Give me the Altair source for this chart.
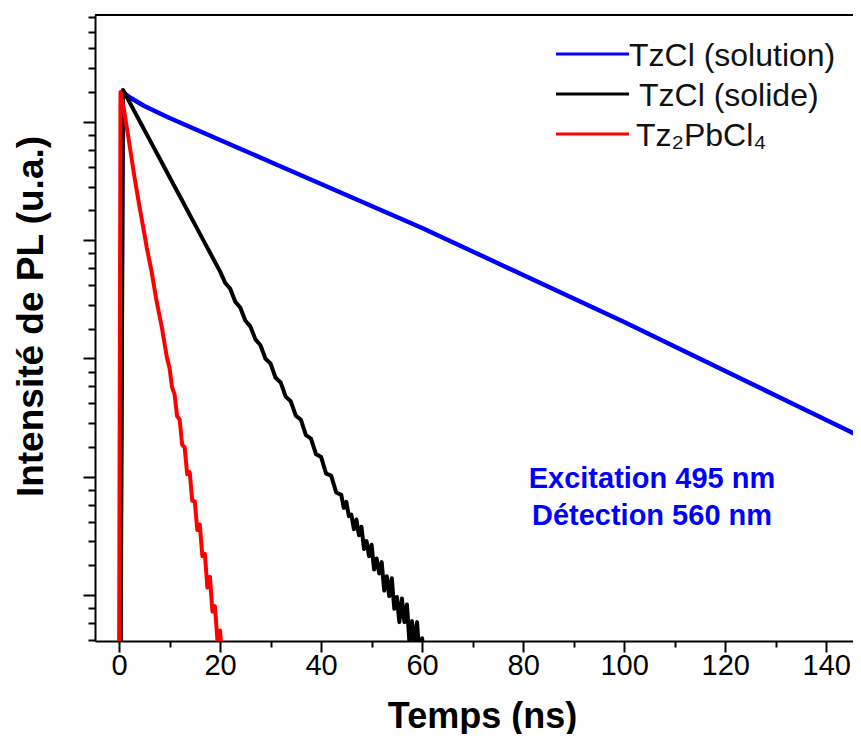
import math
import altair as alt
import pandas as pd

# ---------------- data ----------------
series_names = ["TzCl (solution)", "TzCl (solide)", "Tz\u2082PbCl\u2084"]
series_colors = ["#0000ff", "#000000", "#ff0000"]

t_solution = [0.2, 0.7, 2, 5, 7.5, 10, 15, 20, 25, 30, 35, 40, 45, 50, 55, 60, 65, 70, 75,
              80, 85, 90, 95, 100, 105, 110, 115, 120, 125, 130, 135, 140, 145, 147]
i_solution = [60, 10450, 9994, 9262, 8805, 8368, 7625, 6948, 6331, 5772, 5256, 4790, 4365,
              3977, 3624, 3303, 2990, 2708, 2451, 2219, 2010, 1819, 1647, 1492, 1345, 1212,
              1093, 986, 889, 801, 723, 652, 587, 564]

t_solide = [0.3, 0.8, 2, 3, 4, 5, 6, 7, 8, 9, 10, 11, 12, 13, 14, 15, 16, 17, 18, 19, 20,
            21, 22, 23, 24, 25, 26, 27, 28, 29, 30, 31, 32, 33, 34, 35, 36, 37, 38, 39, 40,
            41, 42, 43, 44, 44.5, 45, 45.5, 46, 46.5, 47, 47.5, 48, 48.5, 49, 49.5, 50,
            50.5, 51, 51.5, 52, 52.5, 53, 53.5, 54, 54.5, 55, 55.5, 56, 56.5, 57, 57.5, 58,
            58.5, 59, 59.5, 60, 60.5, 61]
i_solide = [60, 10603, 9637, 8893, 8214, 7580, 7001, 6463, 5967, 5509, 5082, 4690, 4336,
            4003, 3695, 3411, 3149, 2907, 2684, 2478, 2288, 2080, 1979, 1773, 1687, 1511,
            1438, 1288, 1225, 1093, 1050, 931, 895, 794, 763, 676, 653, 573, 557, 488, 477,
            414, 407, 353, 346, 310, 326, 289, 293, 259, 281, 246, 264, 219, 234, 206, 227,
            184, 202, 178, 196, 154, 174, 147, 171, 132, 146, 118, 144, 118, 137, 99, 119,
            97, 118, 87, 103, 84, 89]

t_pb = [0.0, 0.3, 1, 2, 3, 4, 5, 5.5, 6, 6.5, 7, 7.5, 8, 8.5, 9, 9.5, 10, 10.5, 11, 11.5,
        12, 12.5, 13, 13.5, 14, 14.5, 15, 15.5, 16, 16.5, 17, 17.5, 18, 18.5, 19, 19.5, 20,
        20.5]
i_pb = [60, 10425, 8953, 6835, 5169, 4010, 3165, 2796, 2520, 2261, 1989, 1756, 1582, 1420,
        1249, 1103, 1014, 860, 809, 672, 655, 529, 517, 412, 419, 329, 328, 257, 269, 206,
        210, 158, 173, 129, 135, 100, 110, 83]

x_major = list(range(0, 141, 20))
x_minor = list(range(10, 141, 20))
annotation = ["Excitation 495 nm", "D\u00e9tection 560 nm"]

# ---------------- layout ----------------
W, H = 758, 626
X_DOMAIN = [-4.75, 145.3]
Y_DOMAIN = [100.6, 19990]
FONT = "Liberation Sans"

# natural-log axis (Origin "ln" scale): major ticks at e^k, 5 linear minor ticks between
y_major = [math.exp(k) for k in range(5, 10)]
y_minor = [v for v in (math.exp(k) * (1 + j * (math.e - 1) / 6)
                       for k in range(4, 10) for j in range(1, 6))
           if Y_DOMAIN[0] <= v <= Y_DOMAIN[1]]

x_scale = alt.Scale(domain=X_DOMAIN, nice=False, zero=False)
y_scale = alt.Scale(type="log", base=math.e, domain=Y_DOMAIN, nice=False)

tick_style = dict(tickColor="#000000", tickWidth=2, tickOpacity=1, ticks=True,
                  domainColor="#000000", domainWidth=2)

x_main = alt.X(
    "t:Q", scale=x_scale,
    axis=alt.Axis(
        values=x_major, tickSize=11, labelPadding=-1,
        labelFontSize=29, labelFont=FONT, labelColor="black",
        labelOverlap=False, labelFlush=False, grid=False,
        title="Temps (ns)", titleFont=FONT, titleFontSize=36, titleFontWeight="bold",
        titleColor="black", titleX=387, titleY=86, titleBaseline="alphabetic",
        titleAnchor="middle", **tick_style,
    ),
)
y_main = alt.Y(
    "i:Q", scale=y_scale,
    axis=alt.Axis(
        values=y_major, labels=False, tickSize=12, grid=False,
        title="Intensit\u00e9 de PL (u.a.)", titleFont=FONT, titleFontSize=37,
        titleFontWeight="bold", titleColor="black", titleX=-53, titleY=301,
        titleBaseline="alphabetic", titleAnchor="middle", **tick_style,
    ),
)
x_min = alt.X("t:Q", scale=x_scale,
              axis=alt.Axis(values=x_minor, tickSize=6, labels=False, domain=False,
                            grid=False, title=None, orient="bottom",
                            tickColor="#000000", tickWidth=2, tickOpacity=1))
y_min = alt.Y("i:Q", scale=y_scale,
              axis=alt.Axis(values=y_minor, tickSize=7, labels=False, domain=False,
                            grid=False, title=None, orient="left",
                            tickColor="#000000", tickWidth=2, tickOpacity=1))

series = [(t_solution, i_solution), (t_solide, i_solide), (t_pb, i_pb)]
widths = [4.5, 4, 4]
lines = []
for (ts, vs), name, col, sw in zip(series, series_names, series_colors, widths):
    df = pd.DataFrame({"t": ts, "i": vs, "serie": name})
    lines.append(
        alt.Chart(df).mark_line(clip=True, color=col, strokeWidth=sw, strokeJoin="round")
        .encode(x=x_main, y=y_main, order="t:Q")
    )
data_layer = alt.layer(*lines)

# minor tick axes (invisible carrier)
minor_layer = (
    alt.Chart(pd.DataFrame({"t": [t_pb[1]], "i": [i_pb[1]]}))
    .mark_point(opacity=0)
    .encode(x=x_min, y=y_min)
)

deco = []
one = pd.DataFrame({"a": [0]})
# top frame line
deco.append(
    alt.Chart(one).mark_rule(color="black", strokeWidth=2)
    .encode(x=alt.value(0), x2=alt.value(W), y=alt.value(0))
)
# manual legend
leg_y = [39, 79, 119]
leg_text_x = [534, 544, 541]
leg_text_y = [51, 91, 131]
for name, col, ly, tx, tyy in zip(series_names, series_colors, leg_y, leg_text_x, leg_text_y):
    d = pd.DataFrame({"label": [name]})
    deco.append(
        alt.Chart(d).mark_rule(color=col, strokeWidth=3)
        .encode(x=alt.value(461), x2=alt.value(534), y=alt.value(ly))
    )
    deco.append(
        alt.Chart(d).mark_text(font=FONT, fontSize=32, color="#111111", align="left",
                               baseline="alphabetic")
        .encode(x=alt.value(tx), y=alt.value(tyy), text="label:N")
    )
# annotation
deco.append(
    alt.Chart(pd.DataFrame({"txt": [annotation]})).mark_text(
        font=FONT, fontSize=29, fontWeight="bold", color="#0000ff", align="center",
        baseline="alphabetic", lineHeight=37)
    .encode(x=alt.value(557), y=alt.value(473), text="txt")
)

chart = (
    alt.layer(data_layer, minor_layer, *deco)
    .resolve_axis(x="independent", y="independent")
    .properties(width=W, height=H,
                padding={"left": 87, "top": 7, "right": 0, "bottom": 93},
                autosize=alt.AutoSizeParams(type="none"))
    .configure_view(stroke=None)
    .configure_axis(domainColor="black", domainWidth=2, tickColor="black", tickWidth=2)
    .configure(background="white")
)

chart.save("out.html", embed_options={"renderer": "svg", "actions": False})
